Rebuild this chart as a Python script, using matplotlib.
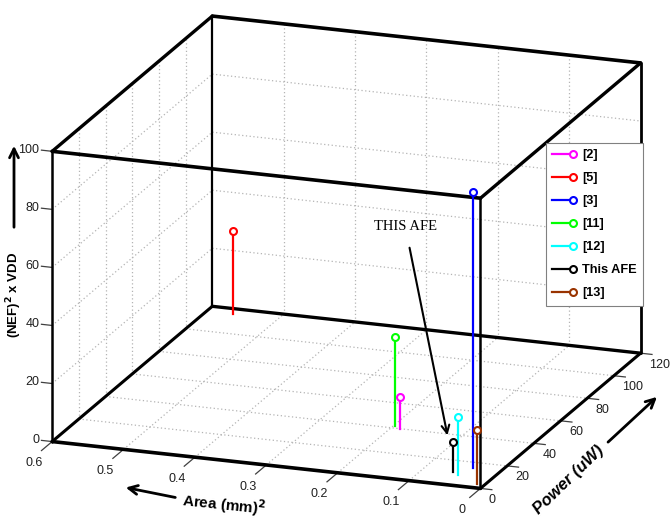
import numpy as np
import matplotlib
matplotlib.use('Agg')
import matplotlib.pyplot as plt
import matplotlib.patches as mpatches
from matplotlib.lines import Line2D
from matplotlib.legend_handler import HandlerLine2D
from mpl_toolkits.mplot3d import proj3d

# ---------------- data ----------------
labels = ['[2]', '[5]', '[3]', '[11]', '[12]', 'This AFE', '[13]']
colors = ['#ff00ff', '#ff0000', '#0000ff', '#00ff00', '#00ffff', '#000000', '#993300']
area = [0.186, 0.563, 0.040, 0.197, 0.048, 0.058, 0.011]      # mm^2
power = [39.5, 115.6, 15.7, 41.5, 8.9, 10.8, 3.6]             # uW
fom = [11.3, 28.5, 95.0, 30.8, 19.7, 10.2, 18.6]              # NEF^2 x VDD

area_ticks = [0, 0.1, 0.2, 0.3, 0.4, 0.5, 0.6]
area_ticklabels = ['0', '0.1', '0.2', '0.3', '0.4', '0.5', '0.6']
power_ticks = [0, 20, 40, 60, 80, 100, 120]
z_ticks = [0, 20, 40, 60, 80, 100]

W, H = 670, 519
fig = plt.figure(figsize=(W / 100, H / 100), dpi=100)
ax = fig.add_axes([0, 0, 1, 1], projection='3d', proj_type='ortho',
                  computed_zorder=False)
ax.set_axis_off()
ax.set_xlim(0.6, 0)
ax.set_ylim(0, 120)
ax.set_zlim(0, 100)
ax.view_init(elev=17.7, azim=-70.2)
ax.set_box_aspect((454.8, 472.4, 304.4))

A0, A1 = 0.6, 0.0
P0, P1 = 0, 120
Z0, Z1 = 0, 100

tick_font = ['Liberation Sans', 'DejaVu Sans']

# ---------------- grid ----------------
gkw = dict(color='#b4b4b4', lw=0.9, ls=(0, (1, 2)), zorder=1)
for a in area_ticks[1:-1]:
    ax.plot([a, a], [P0, P1], [Z0, Z0], **gkw)
    ax.plot([a, a], [P1, P1], [Z0, Z1], **gkw)
for p in power_ticks[1:-1]:
    ax.plot([A0, A1], [p, p], [Z0, Z0], **gkw)
    ax.plot([A0, A0], [p, p], [Z0, Z1], **gkw)
for z in z_ticks[1:-1]:
    ax.plot([A0, A1], [P1, P1], [z, z], **gkw)
    ax.plot([A0, A0], [P0, P1], [z, z], **gkw)

# ---------------- box ----------------
bkw = dict(color='black', solid_capstyle='round', zorder=3)
edges = [
    ((A0, P0, Z0), (A1, P0, Z0), 2.6), ((A0, P0, Z1), (A1, P0, Z1), 2.6),
    ((A0, P1, Z0), (A1, P1, Z0), 2.4), ((A0, P1, Z1), (A1, P1, Z1), 2.6),
    ((A0, P0, Z0), (A0, P1, Z0), 2.2), ((A1, P0, Z0), (A1, P1, Z0), 2.2),
    ((A0, P0, Z1), (A0, P1, Z1), 2.4), ((A1, P0, Z1), (A1, P1, Z1), 2.4),
    ((A0, P0, Z0), (A0, P0, Z1), 1.8), ((A1, P0, Z0), (A1, P0, Z1), 1.8),
    ((A0, P1, Z0), (A0, P1, Z1), 1.6), ((A1, P1, Z0), (A1, P1, Z1), 2.0),
]
for s, e, lw in edges:
    ax.plot([s[0], e[0]], [s[1], e[1]], [s[2], e[2]], lw=lw, **bkw)

# ---------------- tick marks ----------------
tkw = dict(color='#404040', lw=0.9, zorder=2)
for z in z_ticks:
    ax.plot([A0, A0 + 0.015], [P0, P0], [z, z], **tkw)
for a in area_ticks:
    ax.plot([a, a], [P0, P0 - 8], [Z0, Z0], **tkw)
for p in power_ticks:
    ax.plot([A1, A1 - 0.016], [p, p], [Z0, Z0], **tkw)

# ---------------- stems ----------------
handles = []
for lab, c, a, p, z in zip(labels, colors, area, power, fom):
    ax.plot([a, a], [p, p], [0, z], color=c, lw=1.6, zorder=5)
    ax.plot([a], [p], [z], ls='none', marker='o', ms=5, mfc='white',
            mec=c, mew=1.5, zorder=6)
    handles.append(Line2D([0], [0], color=c, lw=1.6, marker='o', ms=5,
                          mfc='white', mec=c, mew=1.5, label=lab))

# ---------------- calibrate axes placement ----------------
targets = {
    (0.6, 0, 0): (52, 440), (0.6, 0, 100): (52, 152),
    (0.0, 0, 0): (480, 490), (0.0, 0, 100): (480, 195),
    (0.6, 120, 0): (212, 305), (0.6, 120, 100): (213, 18),
    (0.0, 120, 0): (640, 355), (0.0, 120, 100): (642, 63),
}
for _ in range(2):
    fig.canvas.draw()
    bb = ax.bbox
    C0 = np.array([(bb.x0 + bb.x1) / 2, (bb.y0 + bb.y1) / 2])
    S0 = min(bb.width, bb.height)
    M = ax.get_proj()
    rows, rhs = [], []
    for (a, p, z), (tx, ty) in targets.items():
        xs, ys, _ = proj3d.proj_transform(a, p, z, M)
        P = ax.transData.transform((xs, ys))
        q = (P - C0) / S0
        rows.append([1, 0, q[0]]); rhs.append(tx)
        rows.append([0, 1, q[1]]); rhs.append(H - ty)
    sol, *_ = np.linalg.lstsq(np.array(rows), np.array(rhs), rcond=None)
    cx, cy, S = sol
    ax.set_position([(cx - S / 2) / W, (cy - S / 2) / H, S / W, S / H])

fig.canvas.draw()
M = ax.get_proj()


def to_fig(a, p, z):
    xs, ys, _ = proj3d.proj_transform(a, p, z, M)
    px = ax.transData.transform((xs, ys))
    return px[0] / W, px[1] / H


# ---------------- tick labels (placed at projected 3D anchor points) ----------------
tl = dict(fontsize=9, family=tick_font, color='#202020')
for z in z_ticks:
    x, y = to_fig(A0 + 0.018, P0, z)
    fig.text(x, y, str(z), ha='right', va='center', **tl)
for a, lab in zip(area_ticks, area_ticklabels):
    x, y = to_fig(a, P0 - 13.5, Z0 - 2.2)
    fig.text(x, y, lab, ha='center', va='center', **tl)
for p in power_ticks:
    x, y = to_fig(A1 - 0.012, p, Z0 - 3.6)
    fig.text(x, y, str(p), ha='left', va='center', **tl)

# ---------------- axis labels & arrows ----------------
def fx(x):
    return x / W


def fy(y):
    return 1 - y / H


lab_font = ['Liberation Sans', 'DejaVu Sans']
fig.text(fx(224), fy(505), 'Area (mm)$^\\mathbf{2}$', ha='center', va='center',
         fontsize=11, fontweight='bold', family=lab_font, rotation=-6)
fig.text(fx(569), fy(480), 'Power (uW)', ha='center', va='center',
         fontsize=12, fontweight='bold', fontstyle='italic', family=lab_font,
         rotation=44)
fig.text(fx(14), fy(295), '(NEF)$^\\mathbf{2}$ x VDD', ha='center', va='center',
         fontsize=9.5, fontweight='bold', family=lab_font, rotation=90)
fig.text(fx(406), fy(226), 'THIS AFE', ha='center', va='center',
         fontsize=10.5, family=['Liberation Serif', 'DejaVu Serif'])

akw = dict(arrowstyle='->', lw=2, color='black', mutation_scale=16)
fig.add_artist(mpatches.FancyArrowPatch(
    (fx(178), fy(498)), (fx(123), fy(487)), transform=fig.transFigure, **akw))
fig.add_artist(mpatches.FancyArrowPatch(
    (fx(606), fy(444)), (fx(659), fy(395)), transform=fig.transFigure, **akw))
fig.add_artist(mpatches.FancyArrowPatch(
    (fx(14), fy(230)), (fx(14), fy(143)), transform=fig.transFigure, **akw))
fig.add_artist(mpatches.FancyArrowPatch(
    (fx(409), fy(245)), (fx(448), fy(438)), transform=fig.transFigure,
    arrowstyle='->', lw=1.5, color='black', mutation_scale=14))


# ---------------- legend ----------------
class StemHandler(HandlerLine2D):
    def create_artists(self, legend, orig, xd, yd, w, h, fs, trans):
        y = h / 2 - yd
        ln = Line2D([-xd, -xd + w], [y, y], color=orig.get_color(),
                    lw=orig.get_linewidth(), transform=trans)
        mk = Line2D([-xd + w], [y], ls='none', marker='o',
                    ms=orig.get_markersize(), mfc='white',
                    mec=orig.get_color(), mew=orig.get_markeredgewidth(),
                    transform=trans)
        return [ln, mk]


leg = fig.legend(handles=handles, loc='upper left',
                 bbox_to_anchor=(fx(546), fy(143)),
                 handler_map={Line2D: StemHandler()},
                 prop=dict(family=tick_font, weight='bold', size=9.2),
                 frameon=True, fancybox=False, edgecolor='#808080',
                 framealpha=1, handlelength=1.6, handletextpad=0.7,
                 labelspacing=0.86, borderpad=0.5, borderaxespad=0)
leg.get_frame().set_linewidth(0.8)

fig.savefig('out.png', dpi=100)
